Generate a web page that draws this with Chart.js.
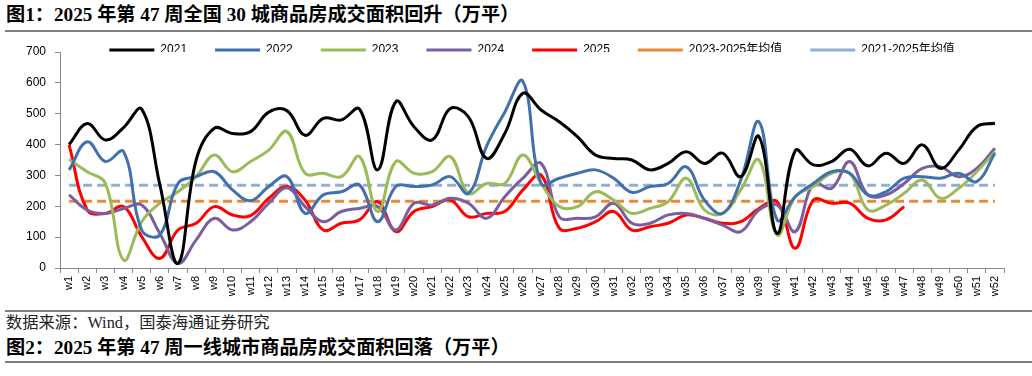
<!DOCTYPE html>
<html>
<head>
<meta charset="utf-8">
<script src="https://cdn.jsdelivr.net/npm/chart.js@4.4.1/dist/chart.umd.min.js"></script>
<style>
  html, body { margin: 0; padding: 0; background: #fff; }
  body { width: 1032px; height: 376px; position: relative; overflow: hidden; }
  #c { position: absolute; left: 0; top: 0; }
  .title { position: absolute; left: 6px; font-family: "Liberation Serif", "Noto Sans CJK SC", serif; font-weight: bold; font-size: 19.2px; color: #000; white-space: nowrap; line-height: 24px; }
  .rule { position: absolute; left: 5px; right: 0; height: 2px; background: #7f7f7f; }
  .src { position: absolute; left: 6px; top: 312px; font-family: "Liberation Serif", "Noto Sans CJK SC", serif; font-size: 16.3px; color: #222; white-space: nowrap; line-height: 22px; }
</style>
</head>
<body>
<div class="title" style="top:3px;">图1：2025 年第 47 周全国 30 城商品房成交面积回升（万平）</div>
<div class="rule" style="top:30px;"></div>
<canvas id="c" width="1032" height="310"></canvas>
<div class="rule" style="top:310px;"></div>
<div class="src">数据来源：Wind，国泰海通证券研究</div>
<div class="title" style="top:336px;">图2：2025 年第 47 周一线城市商品房成交面积回落（万平）</div>
<div class="rule" style="top:361px;"></div>
<script>
const weeks = ['w1','w2','w3','w4','w5','w6','w7','w8','w9','w10','w11','w12','w13','w14','w15','w16','w17','w18','w19','w20','w21','w22','w23','w24','w25','w26','w27','w28','w29','w30','w31','w32','w33','w34','w35','w36','w37','w38','w39','w40','w41','w42','w43','w44','w45','w46','w47','w48','w49','w50','w51','w52'];

const y2021 = [400,468,415,455,515,270,15,350,453,436,442,505,510,430,485,480,515,318,539,458,415,517,490,355,436,566,512,474,426,366,355,350,318,339,377,339,372,296,426,112,380,334,345,385,331,372,339,399,323,382,458,469];
const y2022 = [318,409,345,377,123,107,274,296,312,253,218,264,296,177,237,247,269,150,264,264,269,296,242,395,505,605,274,291,307,318,291,245,264,274,328,220,177,285,474,156,231,274,312,307,237,247,291,296,291,307,280,372];
const y2023 = [352,312,274,26,150,210,247,296,366,312,345,382,442,307,307,296,361,183,345,307,312,361,242,274,274,366,274,199,199,247,220,177,193,215,291,188,177,253,350,107,231,264,307,307,188,204,242,285,226,258,312,377];
const y2024 = [237,188,177,193,204,112,15,91,161,123,150,210,260,199,150,183,193,199,123,210,204,226,210,161,231,291,339,166,161,166,210,145,145,172,177,161,139,118,188,204,118,274,258,345,237,237,274,323,328,296,323,388];
const y2025 = [399,188,177,199,102,31,123,145,199,172,170,226,264,220,123,145,156,215,118,183,199,220,166,177,183,253,301,129,129,150,183,123,134,145,172,161,145,150,193,215,64,220,210,210,161,156,199];
const avg2325 = [216,216,216,216,216,216,216,216,216,216,216,216,216,216,216,216,216,216,216,216,216,216,216,216,216,216,216,216,216,216,216,216,216,216,216,216,216,216,216,216,216,216,216,216,216,216,216,216,216,216,216,216];
const avg2125 = [268,268,268,268,268,268,268,268,268,268,268,268,268,268,268,268,268,268,268,268,268,268,268,268,268,268,268,268,268,268,268,268,268,268,268,268,268,268,268,268,268,268,268,268,268,268,268,268,268,268,268,268];
const yTicks = [0,100,200,300,400,500,600,700];

const FONT = "'Liberation Sans', Arial, 'Noto Sans CJK SC', sans-serif";

function line(label, data, color, dash) {
  return {
    label, data,
    borderColor: color, backgroundColor: color,
    borderWidth: 3, pointRadius: 0, pointHoverRadius: 0, pointStyle: 'line',
    borderDash: dash || [], tension: dash ? 0 : 0.4, fill: false
  };
}

new Chart(document.getElementById('c'), {
  type: 'line',
  data: {
    labels: weeks,
    datasets: [
      line('2021', y2021, '#000000'),
      line('2022', y2022, '#4171ad'),
      line('2023', y2023, '#9bbb59'),
      line('2024', y2024, '#7b5e9f'),
      line('2025', y2025, '#ff0000'),
      line('2023-2025年均值', avg2325, '#e68a3e', [9, 5]),
      line('2021-2025年均值', avg2125, '#93aed6', [9, 5])
    ]
  },
  options: {
    responsive: false,
    animation: false,
    devicePixelRatio: 1,
    layout: { padding: { left: 0, right: 28, top: 16, bottom: 0 } },
    plugins: {
      legend: {
        position: 'top', align: 'center', fullSize: false, maxHeight: 36,
        labels: {
          usePointStyle: true, pointStyleWidth: 45, padding: 28,
          color: '#000', font: { family: FONT, size: 12 }
        }
      },
      tooltip: { enabled: false }
    },
    scales: {
      x: {
        offset: true,
        grid: { offset: true, drawOnChartArea: false, drawTicks: true, tickLength: 5, color: '#888' },
        border: { color: '#888', width: 1 },
        ticks: { autoSkip: false, minRotation: 90, maxRotation: 90, padding: 3, color: '#000', font: { family: FONT, size: 11 } },
        afterFit: s => { s.height = 42; }
      },
      y: {
        min: 0, max: 700,
        afterBuildTicks: s => { s.ticks = yTicks.map(v => ({ value: v })); },
        grid: { drawOnChartArea: false, drawTicks: true, tickLength: 5, color: '#888' },
        border: { color: '#888', width: 1 },
        ticks: { padding: 9, color: '#000', font: { family: FONT, size: 12 } },
        afterFit: s => { s.width = 60; }
      }
    }
  }
});
</script>
</body>
</html>
